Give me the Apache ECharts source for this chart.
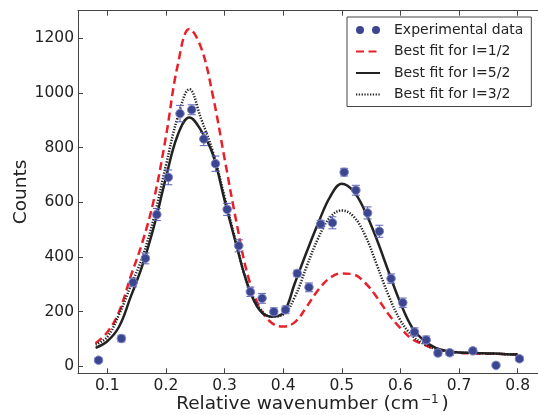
<!DOCTYPE html>
<html>
<head>
<meta charset="utf-8">
<script src="https://cdn.jsdelivr.net/npm/echarts@6/dist/echarts.min.js"></script>
<style>html,body{margin:0;padding:0;background:#fff}#c{width:538px;height:415px}</style>
</head>
<body>
<div id="c"></div>
<script>
// Experimental data
const dataX = [0.085, 0.124, 0.144, 0.165, 0.1845, 0.204, 0.224, 0.244, 0.2646, 0.2845, 0.3044, 0.3242, 0.344, 0.364, 0.384, 0.404, 0.424, 0.444, 0.464, 0.484, 0.504, 0.524, 0.544, 0.564, 0.584, 0.604, 0.624, 0.644, 0.664, 0.684, 0.7235, 0.763, 0.803];
const dataY = [23, 102, 307, 395, 555, 691, 924, 938, 831, 741, 574, 441, 273, 249, 200, 207, 340, 289, 520, 525, 710, 644, 561, 494, 321, 233, 126, 97, 49, 50, 57, 4, 28];
const dataErr = [8, 12, 16, 20, 22, 27, 30, 18, 24, 28, 22, 22, 17, 18, 14, 14, 12, 16, 14, 22, 14, 18, 22, 22, 17, 17, 15, 14, 10, 10, 10, 6, 8];

// Fit curves
const fitX = [0.08, 0.10, 0.12, 0.14, 0.16, 0.18, 0.20, 0.22, 0.24, 0.26, 0.28, 0.30, 0.32, 0.34, 0.36, 0.38, 0.40, 0.42, 0.44, 0.46, 0.48, 0.50, 0.52, 0.54, 0.56, 0.58, 0.60, 0.62, 0.64, 0.66, 0.68, 0.70, 0.72, 0.74, 0.76, 0.78, 0.80];
const fitHalf = [85, 125, 200, 330, 455, 615, 840, 1100, 1233, 1165, 990, 760, 530, 330, 215, 160, 146, 162, 218, 280, 324, 340, 336, 305, 252, 190, 140, 100, 80, 63, 55, 50, 48, 47, 46, 45, 44];
const fitFiveHalf = [68, 92, 145, 255, 370, 515, 690, 845, 910, 862, 775, 608, 445, 295, 205, 182, 195, 305, 418, 525, 620, 668, 640, 565, 462, 345, 232, 142, 95, 68, 56, 51, 50, 48, 47, 45, 44];
const fitThreeHalf = [80, 108, 190, 295, 400, 548, 735, 910, 1013, 905, 785, 620, 450, 295, 212, 182, 190, 255, 365, 470, 545, 570, 548, 478, 370, 258, 168, 113, 82, 64, 55, 51, 50, 48, 47, 45, 44];

const xTicks = [0.1, 0.2, 0.3, 0.4, 0.5, 0.6, 0.7, 0.8];
const yTicks = [0, 200, 400, 600, 800, 1000, 1200];

const FONT = 'DejaVu Sans';
const pts = dataX.map((x, i) => [x, dataY[i]]);
const errs = dataX.map((x, i) => [x, dataY[i] - dataErr[i], dataY[i] + dataErr[i]]);
const zip = arr => fitX.map((x, i) => [x, arr[i]]);

const chart = echarts.init(document.getElementById('c'));
const axisLineStyle = { color: '#444', width: 1 };
const hiddenSym = { color: 'rgba(0,0,0,0)', borderWidth: 0, opacity: 0 };
chart.setOption({
  animation: false,
  backgroundColor: '#fff',
  grid: { left: 78, top: 10.7, width: 469, height: 362.6, containLabel: false, outerBoundsMode: 'none' },
  legend: {
    data: [
      { name: 'Experimental data', icon: 'path://M0,5a5,5 0 1,0 10,0a5,5 0 1,0 -10,0M20,5a5,5 0 1,0 10,0a5,5 0 1,0 -10,0', itemStyle: { color: '#3c4590', borderWidth: 0 } },
      { name: 'Best fit for I=1/2', itemStyle: hiddenSym },
      { name: 'Best fit for I=5/2', itemStyle: hiddenSym },
      { name: 'Best fit for I=3/2', itemStyle: hiddenSym }
    ],
    orient: 'vertical',
    left: 347, top: 17,
    padding: [6, 8, 5, 8],
    itemWidth: 24, itemHeight: 14, itemGap: 7.5,
    borderColor: '#444', borderWidth: 1, backgroundColor: '#fff',
    textStyle: { fontFamily: FONT, fontSize: 14, color: '#222', padding: [0, 0, 0, 9] }
  },
  xAxis: [{
    type: 'value', min: 0.05, max: 0.85, position: 'bottom',
    name: '{n|Relative wavenumber (cm}{s|−1}{n|)}',
    nameLocation: 'middle', nameGap: 21, nameMoveOverlap: false,
    nameTextStyle: { rich: {
      n: { fontFamily: FONT, fontSize: 18.5, color: '#222' },
      s: { fontFamily: FONT, fontSize: 12, color: '#222', verticalAlign: 'top', padding: [0, 3, 8, 2] }
    } },
    axisLine: { show: true, onZero: false, lineStyle: axisLineStyle },
    axisTick: { show: true, inside: true, length: 5, customValues: xTicks, lineStyle: axisLineStyle },
    axisLabel: { customValues: xTicks, formatter: v => v.toFixed(1), margin: 5, fontFamily: FONT, fontSize: 15.5, color: '#222' },
    splitLine: { show: false }
  }, {
    type: 'value', min: 0.05, max: 0.85, position: 'top',
    axisLine: { show: true, onZero: false, lineStyle: axisLineStyle },
    axisTick: { show: true, inside: true, length: 5, customValues: xTicks, lineStyle: axisLineStyle },
    axisLabel: { show: false },
    splitLine: { show: false }
  }],
  yAxis: [{
    type: 'value', min: -25, max: 1300,
    name: 'Counts', nameLocation: 'middle', nameGap: 47, nameMoveOverlap: false,
    nameTextStyle: { fontFamily: FONT, fontSize: 18.5, color: '#222' },
    axisLine: { show: true, onZero: false, lineStyle: axisLineStyle },
    axisTick: { show: true, inside: true, length: 5, customValues: yTicks, lineStyle: axisLineStyle },
    axisLabel: { customValues: yTicks, formatter: v => String(v), margin: 4, fontFamily: FONT, fontSize: 15.5, color: '#222' },
    splitLine: { show: false }
  }],
  series: [
    {
      name: 'Best fit for I=1/2', type: 'line', data: zip(fitHalf), smooth: 0.4,
      symbol: 'none', lineStyle: { color: '#e8202a', width: 2.5, type: [8, 4.5] },
      itemStyle: { color: '#e8202a' }, z: 2
    },
    {
      name: 'Best fit for I=5/2', type: 'line', data: zip(fitFiveHalf), smooth: 0.4,
      symbol: 'none', lineStyle: { color: '#222', width: 2.5, type: 'solid' },
      itemStyle: { color: '#222' }, z: 3
    },
    {
      name: 'Best fit for I=3/2', type: 'line', data: zip(fitThreeHalf), smooth: 0.4,
      symbol: 'none', lineStyle: { color: '#222', width: 2.5, type: [1.3, 1.5] },
      itemStyle: { color: '#222' }, z: 3
    },
    {
      name: 'errors', type: 'custom', data: errs, z: 4,
      renderItem: (params, api) => {
        const x = api.value(0);
        const lo = api.coord([x, api.value(1)]);
        const hi = api.coord([x, api.value(2)]);
        const cap = 4;
        const st = { stroke: '#5a60b4', lineWidth: 1 };
        return { type: 'group', children: [
          { type: 'line', shape: { x1: lo[0], y1: lo[1], x2: hi[0], y2: hi[1] }, style: st },
          { type: 'line', shape: { x1: lo[0] - cap, y1: lo[1], x2: lo[0] + cap, y2: lo[1] }, style: st },
          { type: 'line', shape: { x1: hi[0] - cap, y1: hi[1], x2: hi[0] + cap, y2: hi[1] }, style: st }
        ] };
      }
    },
    {
      name: 'Experimental data', type: 'scatter', data: pts, symbol: 'circle', symbolSize: 8.5,
      itemStyle: { color: '#3c4590', borderColor: '#7f86c6', borderWidth: 1, opacity: 1 }, z: 5
    }
  ]
});
</script>
</body>
</html>
